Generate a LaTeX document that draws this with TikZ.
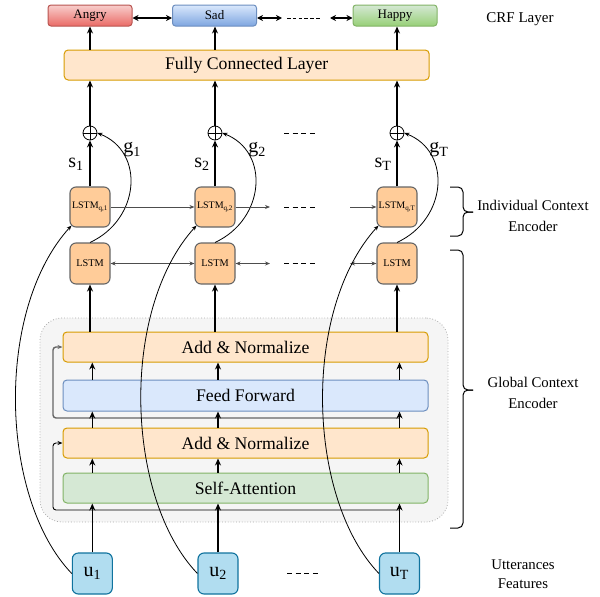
\documentclass[tikz,border=0pt]{standalone}
\usepackage{fontspec}
\setmainfont{Liberation Serif}
\usetikzlibrary{arrows.meta}
\definecolor{orfill}{HTML}{FFE6CC}
\definecolor{orline}{HTML}{D79B00}
\definecolor{blfill}{HTML}{DAE8FC}
\definecolor{blline}{HTML}{6C8EBF}
\definecolor{grfill}{HTML}{D5E8D4}
\definecolor{grline}{HTML}{82B366}
\definecolor{lsfill}{HTML}{FFCC99}
\definecolor{lsline}{HTML}{666666}
\definecolor{ufill}{HTML}{B1DDF0}
\definecolor{uline}{HTML}{10739E}
\definecolor{angtop}{HTML}{F8CECC}
\definecolor{angbot}{HTML}{EA6B66}
\definecolor{angline}{HTML}{B85450}
\definecolor{sadbot}{HTML}{7EA6E0}
\definecolor{hapbot}{HTML}{97D077}
\definecolor{contfill}{HTML}{F5F5F5}
\definecolor{contline}{HTML}{AAAAAA}
\definecolor{garrow}{HTML}{4D4D4D}
\definecolor{resgray}{HTML}{666666}
\begin{document}
\begin{tikzpicture}[x=1pt,y=-1pt,
  wide/.style={draw, rounded corners=4pt, minimum width=365pt, minimum height=30pt, inner sep=0pt, line width=1pt, font=\fontsize{17.7}{20}\selectfont},
  lstmbox/.style={draw=lsline, fill=lsfill, rounded corners=6pt, minimum width=40pt, minimum height=40pt, inner sep=0pt, line width=1.1pt},
  ubox/.style={draw=uline, fill=ufill, rounded corners=6pt, minimum width=40pt, minimum height=41pt, inner sep=0pt, line width=1.1pt, font=\fontsize{20}{24}\selectfont},
  emo/.style={rounded corners=3pt, minimum width=84pt, minimum height=21pt, inner sep=0pt, line width=1pt, font=\fontsize{13}{15}\selectfont},
  oplusnode/.style={circle, draw, minimum size=14pt, inner sep=0pt, line width=0.8pt,
    path picture={\draw[line width=0.8pt] (path picture bounding box.north) -- (path picture bounding box.south) (path picture bounding box.west) -- (path picture bounding box.east);}},
  arr/.style={-{Stealth[length=7pt,width=6pt]}, line width=1.4pt},
  crfarr/.style={{Stealth[length=6pt,width=6pt]}-{Stealth[length=6pt,width=6pt]}, line width=1.5pt},
  garr/.style={-{Stealth[length=5pt,width=4pt]}, line width=0.9pt, draw=garrow},
  gdarr/.style={{Stealth[length=5pt,width=4pt]}-{Stealth[length=5pt,width=4pt]}, line width=0.9pt, draw=garrow},
  curv/.style={-{Stealth[length=5pt,width=4pt]}, line width=0.8pt},
  dsh/.style={dash pattern=on 5pt off 3.6pt, line width=1pt},
  fdsh/.style={dash pattern=on 3.5pt off 2.3pt, line width=1pt},
  lbl/.style={inner sep=0pt, font=\fontsize{14.8}{21}\selectfont, align=center},
  sym/.style={inner sep=0pt, font=\fontsize{20}{24}\selectfont}
]
\useasboundingbox (0,0) rectangle (600,597);

% container
\node[draw=contline, fill=contfill, dotted, line width=0.8pt, rounded corners=22pt, minimum width=408pt, minimum height=204pt] (glob) at (244,420) {};

% emotions
\node[emo, draw=angline, top color=angtop, bottom color=angbot] (angry) at (90,15.5) {Angry};
\node[emo, draw=blline, top color=blfill, bottom color=sadbot] (sad) at (214.5,15.5) {Sad};
\node[emo, draw=grline, top color=grfill, bottom color=hapbot] (happy) at (395,15.5) {Happy};

% fully connected
\node[wide, draw=orline, fill=orfill] (fc) at (246.7,65) {Fully Connected Layer};

% oplus
\node[oplusnode] (o1) at (90,133) {};
\node[oplusnode] (o2) at (215,133) {};
\node[oplusnode] (o3) at (397,133) {};

% LSTM_q
\node[lstmbox, font=\fontsize{10}{10}\selectfont] (lq1) at (90,207) {LSTM\textsubscript{q,1}};
\node[lstmbox, font=\fontsize{10}{10}\selectfont] (lq2) at (215,207) {LSTM\textsubscript{q,2}};
\node[lstmbox, font=\fontsize{10}{10}\selectfont] (lq3) at (397,207) {LSTM\textsubscript{q,T}};

% LSTM
\node[lstmbox, minimum height=41pt, font=\fontsize{10.3}{11}\selectfont] (ls1) at (90,263.5) {LSTM};
\node[lstmbox, minimum height=41pt, font=\fontsize{10.3}{11}\selectfont] (ls2) at (215,263.5) {LSTM};
\node[lstmbox, minimum height=41pt, font=\fontsize{10.3}{11}\selectfont] (ls3) at (397,263.5) {LSTM};

% transformer blocks
\node[wide, draw=orline, fill=orfill] (an1) at (245.5,347) {Add \& Normalize};
\node[wide, draw=blline, fill=blfill, minimum height=31pt] (ff) at (245.5,395.5) {Feed Forward};
\node[wide, draw=orline, fill=orfill] (an2) at (245.5,443) {Add \& Normalize};
\node[wide, draw=grline, fill=grfill] (sa) at (245.5,488) {Self-Attention};

% utterances
\node[ubox] (u1) at (92.3,573.5) {u\textsubscript{1}};
\node[ubox] (u2) at (218,573.5) {u\textsubscript{2}};
\node[ubox] (u3) at (399.5,573.5) {u\textsubscript{T}};

% labels s, g
\node[sym] (s1) at (76,164) {s\textsubscript{1}};
\node[sym] (s2) at (202,164) {s\textsubscript{2}};
\node[sym] (s3) at (383,164) {s\textsubscript{T}};
\node[sym] (g1) at (132,150) {g\textsubscript{1}};
\node[sym] (g2) at (257,150) {g\textsubscript{2}};
\node[sym] (g3) at (439,150) {g\textsubscript{T}};

% side texts
\node[lbl, font=\fontsize{15}{18}\selectfont] (crf) at (520,19) {CRF Layer};
\node[lbl] (ice) at (533,215.5) {Individual Context\\Encoder};
\node[lbl] (gce) at (533,392.5) {Global Context\\Encoder};
\node[lbl, font=\fontsize{14.8}{19}\selectfont] (uf) at (523,574) {Utterances\\Features};

% CRF arrows
\coordinate (ce1) at (282,18);
\coordinate (ce2) at (330,18);
\coordinate (cd1) at (287,18);
\coordinate (cd2) at (321,18);
\draw[crfarr] (angry.east |- ce1) -- (sad.west |- ce1);
\draw[crfarr] (sad.east |- ce1) -- (ce1);
\draw[crfarr] (ce2) -- (happy.west |- ce2);
\draw[fdsh] (cd1) -- (cd2);

% FC -> emotions
\draw[arr] (o1 |- fc.north) -- (o1 |- angry.south);
\draw[arr] (o2 |- fc.north) -- (o2 |- sad.south);
\draw[arr] (o3 |- fc.north) -- (o3 |- happy.south);

% oplus -> FC
\draw[arr] (o1.north) -- (o1 |- fc.south);
\draw[arr] (o2.north) -- (o2 |- fc.south);
\draw[arr] (o3.north) -- (o3 |- fc.south);

% LSTM_q -> oplus
\draw[arr] (lq1.north) -- (o1.south);
\draw[arr] (lq2.north) -- (o2.south);
\draw[arr] (lq3.north) -- (o3.south);

% LSTM -> oplus curves
\draw[curv] (ls1.north) .. controls +(50,-23) and +(48,19) .. (o1.east);
\draw[curv] (ls2.north) .. controls +(50,-23) and +(48,19) .. (o2.east);
\draw[curv] (ls3.north) .. controls +(50,-23) and +(48,19) .. (o3.east);

% horizontal LSTM_q arrows
\coordinate (qa) at (270,207);
\coordinate (qb) at (350,207);
\draw[garr] (lq1.east) -- (lq2.west);
\draw[garr] (lq2.east) -- (qa);
\draw[garr] (qb) -- (lq3.west);
% horizontal LSTM arrows
\coordinate (la) at (270,263.5);
\coordinate (lb) at (350,263.5);
\draw[gdarr] (ls1.east) -- (ls2.west);
\draw[gdarr] (ls2.east) -- (la);
\draw[gdarr] (lb) -- (ls3.west);

% dashes
\coordinate (d1a) at (284,133); \coordinate (d1b) at (316,133);
\coordinate (d2a) at (284,207); \coordinate (d2b) at (316,207);
\coordinate (d3a) at (284,263.5); \coordinate (d3b) at (316,263.5);
\coordinate (d4a) at (287,573); \coordinate (d4b) at (321,573);
\draw[dsh] (d1a) -- (d1b);
\draw[dsh] (d2a) -- (d2b);
\draw[dsh] (d3a) -- (d3b);
\draw[dsh] (d4a) -- (d4b);

% residual lines
\coordinate (rb) at (53,510);
\coordinate (rt) at (53,418);
\draw[-{Stealth[length=5pt,width=4pt]}, line width=0.9pt, rounded corners=3pt] (u3 |- rb) -- (rb) |- (an2.west);
\draw[-{Stealth[length=5pt,width=4pt]}, line width=1.4pt, draw=resgray, rounded corners=3pt] (u3 |- rt) -- (rt) |- (an1.west);

% transformer vertical arrows
\foreach \u in {u1,u2,u3}{
  \draw[arr] (\u.north) -- (\u |- sa.south);
  \draw[arr] (\u |- sa.north) -- (\u |- an2.south);
  \draw[arr] (\u |- an2.north) -- (\u |- ff.south);
  \draw[arr] (\u |- ff.north) -- (\u |- an1.south);
}
% add&norm -> LSTM
\draw[arr] (ls1 |- an1.north) -- (ls1.south);
\draw[arr] (ls2 |- an1.north) -- (ls2.south);
\draw[arr] (ls3 |- an1.north) -- (ls3.south);

% utterance -> LSTM_q curves
\draw[curv] (u1.west) .. controls +(-72,-75) and +(-77,85) .. ([shift={(2,-2)}]lq1.south west);
\draw[curv] (u2.west) .. controls +(-72,-75) and +(-77,85) .. ([shift={(2,-2)}]lq2.south west);
\draw[curv] (u3.west) .. controls +(-72,-75) and +(-77,85) .. ([shift={(2,-2)}]lq3.south west);

% braces
\draw[line width=1pt, rounded corners=5pt] (450,187) -- (463,187) -- (463,212) -- (473,212);
\draw[line width=1pt, rounded corners=5pt] (450,236) -- (463,236) -- (463,212) -- (473,212);
\draw[line width=1pt, rounded corners=5pt] (450,250) -- (463,250) -- (463,390) -- (473,390);
\draw[line width=1pt, rounded corners=5pt] (450,528) -- (463,528) -- (463,390) -- (473,390);
\end{tikzpicture}
\end{document}
